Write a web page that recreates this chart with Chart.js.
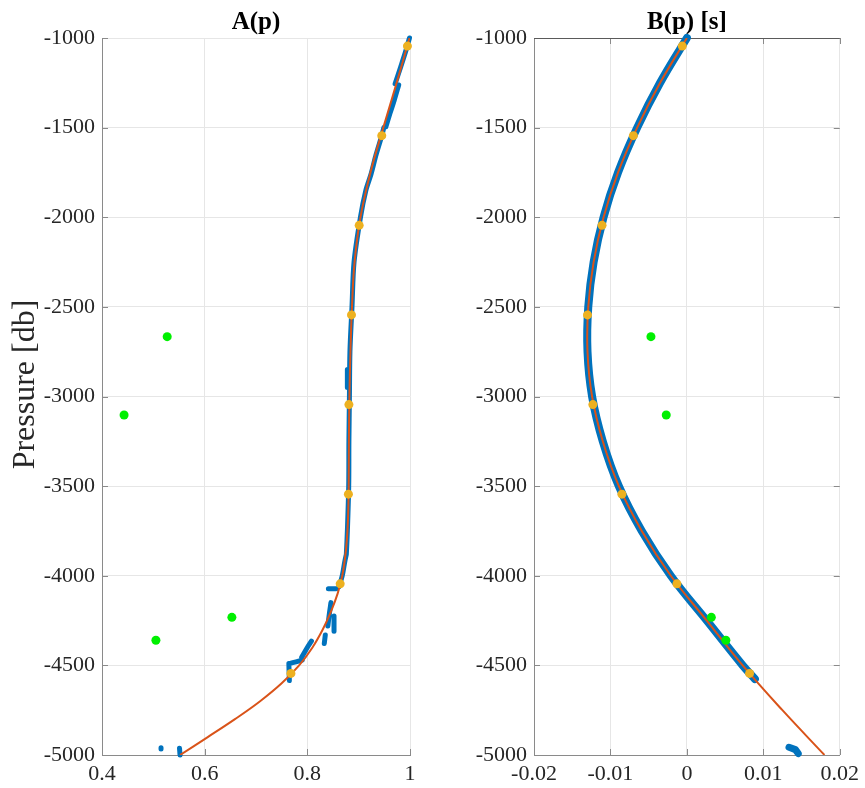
<!DOCTYPE html>
<html><head><meta charset="utf-8">
<script src="https://cdn.jsdelivr.net/npm/chart.js@4"></script>
<style>
html,body{margin:0;padding:0;background:#fff;}
#wrap{position:relative;width:865px;height:788px;overflow:hidden;}
canvas{position:absolute;top:0;}
#cA{left:0;} #cB{left:430px;}
</style></head><body>
<div id="wrap"><canvas id="cA" width="430" height="788"></canvas><canvas id="cB" width="435" height="788"></canvas></div>
<script>
// ---- tick labels ----
const pressureTicks = [-5000,-4500,-4000,-3500,-3000,-2500,-2000,-1500,-1000];
const aTicks = [0.4,0.6,0.8,1];
const bTicks = [-0.02,-0.01,0,0.01,0.02];

// ---- fitted curves (red) ----
const fitA_p = [-1000,-1250,-1500,-1750,-2000,-2250,-2500,-2750,-3000,-3250,-3500,-3600,-3700,-3800,-3900,-4000,-4100,-4200,-4300,-4400,-4500,-4600,-4700,-4800,-4900,-5000];
const fitA_v = [0.999,0.974,0.948,0.923,0.9035,0.892,0.887,0.884,0.882,0.881,0.8806,0.8800,0.8790,0.8770,0.8735,0.868,0.859,0.846,0.830,0.810,0.784,0.750,0.708,0.659,0.606,0.552];
const fitB_p = [-1000,-1250,-1500,-1750,-2000,-2250,-2500,-2750,-3000,-3250,-3500,-3750,-4000,-4250,-4500,-4750,-5000];
const fitB_v = [0.0000,-0.0035,-0.0065,-0.0090,-0.0109,-0.0122,-0.0129,-0.0130,-0.0124,-0.0110,-0.0089,-0.0059,-0.0021,0.0026,0.0073,0.0125,0.0180];

// ---- observations (blue); null marks a gap ----
const obsA_p = [-1000,-1080,-1160,-1255,null,
  -1262,-1350,-1420,-1495,null,
  -1500,-1545,-1650,-1760,-1850,-2000,-2250,-2500,-2750,-3000,-3250,-3500,-3750,-3880,null,
  -2850,-2950,null,
  -3880,-3920,-4000,-4060,null,
  -4072,-4072,null,
  -4150,-4210,-4280,null,
  -4225,-4310,null,
  -4330,-4378,null,
  -4365,-4400,-4455,null,
  -4470,-4480,-4490,null,
  -4490,-4585,null,
  -4960,-4966,null,
  -4962,-5000];
const obsA_v = [0.999,0.991,0.982,0.971,null,
  0.978,0.969,0.961,0.953,null,
  0.949,0.945,0.934,0.924,0.914,0.9035,0.891,0.887,0.883,0.882,0.881,0.8806,0.878,0.876,null,
  0.878,0.878,null,
  0.876,0.873,0.868,0.862,null,
  0.841,0.856,null,
  0.846,0.843,0.840,null,
  0.852,0.852,null,
  0.835,0.833,null,
  0.808,0.800,0.789,null,
  0.790,0.778,0.765,null,
  0.764,0.765,null,
  0.515,0.515,null,
  0.551,0.552];
const obsB_p = [-1000,-1250,-1500,-1750,-2000,-2250,-2500,-2750,-3000,-3250,-3500,-3750,-4000,-4250,-4500,-4576];
const obsB_v = [0.0000,-0.0035,-0.0065,-0.0090,-0.0109,-0.0122,-0.0129,-0.0130,-0.0124,-0.0110,-0.0089,-0.0059,-0.0021,0.0026,0.0073,0.0089];
const obsBdeep_p = [-4957,-4970,-4992];
const obsBdeep_v = [0.01336,0.0142,0.01457];

// ---- nodes (orange) ----
const nodeP = [-1045,-1545,-2045,-2545,-3045,-3545,-4045,-4545];
const nodeA = [0.995,0.945,0.901,0.886,0.881,0.880,0.864,0.768];
const nodeB = [-0.0006,-0.0070,-0.0111,-0.0130,-0.0123,-0.0085,-0.0013,0.0082];

// ---- outliers (green) ----
const outP = [-2666,-3103,-4232,-4360];
const outA = [0.527,0.443,0.653,0.505];
const outB = [-0.0047,-0.0027,0.0032,0.0051];

const BLUE='#0072BD', RED='#D95319', ORANGE='#EDB120', GREEN='#00F000';
const FONT='Liberation Serif';

function zip(xs, ps){
  let last = 0;
  return xs.map((v,i)=>{ if(v===null||ps[i]===null) return {x:last,y:null}; last=v; return {x:v,y:ps[i]}; });
}

const innerTicks = {
  id:'innerTicks',
  beforeDatasetsDraw(chart, args, opts){
    const {ctx, chartArea:{left,right,top,bottom}, scales:{x,y}} = chart;
    ctx.save(); ctx.strokeStyle = opts.color; ctx.lineWidth = 1;
    ctx.beginPath();
    y.ticks.forEach(t=>{ const py=Math.round(y.getPixelForValue(t.value))+0.5;
      ctx.moveTo(left,py); ctx.lineTo(left+6,py);
      if(opts.box){ ctx.moveTo(right,py); ctx.lineTo(right-6,py); } });
    x.ticks.forEach(t=>{ const px=Math.round(x.getPixelForValue(t.value))+0.5;
      ctx.moveTo(px,bottom); ctx.lineTo(px,bottom-6);
      if(opts.box){ ctx.moveTo(px,top); ctx.lineTo(px,top+6); } });
    ctx.stroke();
    if(opts.box){ ctx.strokeStyle = opts.topColor; ctx.beginPath();
      ctx.moveTo(left, Math.round(top)+0.5); ctx.lineTo(right, Math.round(top)+0.5); ctx.stroke(); }
    ctx.restore();
  }
};

function makeChart(id, cfg){
  const xs = {
    type:'linear', min:cfg.xmin, max:cfg.xmax,
    afterBuildTicks: s => { s.ticks = cfg.xticks.map(v=>({value:v})); },
    afterFit: s => { s.height = 33; },
    ticks:{ callback: v => String(v), font:{family:FONT,size:22}, color:'#262626', padding:6, maxRotation:0, autoSkip:false },
    grid:{ color:'#e6e6e6', lineWidth:1, drawTicks:false },
    border:{ display:true, color:'#8a8a8a', width:1 }
  };
  const ys = {
    type:'linear', min:-5000, max:-1000,
    afterBuildTicks: s => { s.ticks = pressureTicks.map(v=>({value:v})); },
    afterFit: s => { s.width = cfg.yw; },
    ticks:{ callback: v => String(v), font:{family:FONT,size:22}, color:'#262626', padding:7, autoSkip:false },
    grid:{ color:'#e6e6e6', lineWidth:1, drawTicks:false },
    border:{ display:true, color:'#8a8a8a', width:1 },
    title: cfg.ytitle ? { display:true, text:cfg.ytitle, font:{family:FONT,size:32}, color:'#262626', padding:{top:6,bottom:0} } : {display:false}
  };
  return new Chart(document.getElementById(id), {
    type:'scatter',
    data:{ datasets: cfg.datasets },
    options:{
      responsive:false, animation:false, devicePixelRatio:1,
      layout:{ padding:{left:0,right:cfg.padRight,top:0,bottom:0} },
      scales:{ x:xs, y:ys },
      plugins:{
        legend:{display:false}, tooltip:{enabled:false},
        title:{ display:true, text:cfg.title, fullSize:false, color:'#000',
          font:{family:FONT,size:25,weight:'bold'}, padding:{top:8,bottom:0} },
        innerTicks:{ color:'#8a8a8a', box:cfg.box, topColor:'#5a5a5a' }
      }
    },
    plugins:[innerTicks]
  });
}

makeChart('cA', {
  xmin:0.4, xmax:1, xticks:aTicks, yw:102, padRight:20, title:'A(p)', ytitle:'\u00A0\u00A0\u00A0Pressure [db]', box:false,
  datasets:[
    {label:'outliers', data:zip(outA,outP), showLine:false, pointRadius:4.5, pointBackgroundColor:GREEN, pointBorderWidth:0, order:0},
    {label:'nodes', data:zip(nodeA,nodeP), showLine:false, pointRadius:4.5, pointBackgroundColor:ORANGE, pointBorderWidth:0, order:1, clip:false},
    {label:'fit', data:zip(fitA_v,fitA_p), showLine:true, borderColor:RED, borderWidth:2, pointRadius:0, tension:0.4, order:2},
    {label:'obs', data:zip(obsA_v,obsA_p), showLine:true, spanGaps:false, borderColor:BLUE, borderWidth:5, borderCapStyle:'round', borderJoinStyle:'round', pointRadius:0, tension:0.3, order:3, clip:false}
  ]
});

makeChart('cB', {
  xmin:-0.02, xmax:0.02, xticks:bTicks, yw:104, padRight:24, title:'B(p) [s]', ytitle:null, box:true,
  datasets:[
    {label:'outliers', data:zip(outB,outP), showLine:false, pointRadius:4.5, pointBackgroundColor:GREEN, pointBorderWidth:0, order:0},
    {label:'nodes', data:zip(nodeB,nodeP), showLine:false, pointRadius:4.5, pointBackgroundColor:ORANGE, pointBorderWidth:0, order:1},
    {label:'fit', data:zip(fitB_v,fitB_p), showLine:true, borderColor:RED, borderWidth:2, pointRadius:0, tension:0.4, order:2},
    {label:'obs', data:zip(obsB_v,obsB_p), showLine:true, borderColor:BLUE, borderWidth:8, borderCapStyle:'round', borderJoinStyle:'round', pointRadius:0, tension:0.4, order:3, clip:false},
    {label:'obsDeep', data:zip(obsBdeep_v,obsBdeep_p), showLine:true, borderColor:BLUE, borderWidth:7, borderCapStyle:'round', borderJoinStyle:'round', pointRadius:0, tension:0, order:3, clip:false}
  ]
});
</script>
</body></html>
